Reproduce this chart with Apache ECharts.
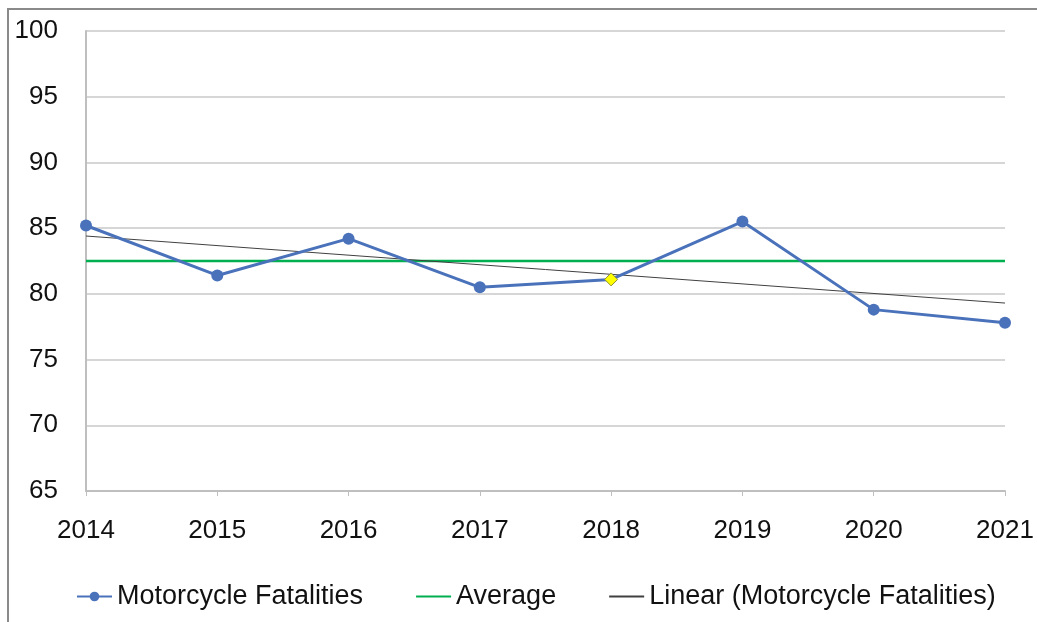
<!DOCTYPE html>
<html>
<head>
<meta charset="utf-8">
<script src="https://cdn.jsdelivr.net/npm/echarts@6/dist/echarts.min.js"></script>
<style>
    html, body { margin: 0; padding: 0; background: #fff; }
    #chart { width: 1037px; height: 622px; }
    #frame {
        position: absolute; left: 7px; top: 8px; right: 0; bottom: 0;
        border-left: 2px solid #8a8a8a; border-top: 2px solid #8a8a8a;
        pointer-events: none;
    }
</style>
</head>
<body>
<div id="chart"></div>
<div id="frame"></div>
<script>
// Dữ liệu
const years = ["2014", "2015", "2016", "2017", "2018", "2019", "2020", "2021"];
const fatalities = [85.2, 81.4, 84.2, 80.5, 81.1, 85.5, 78.8, 77.8];
const averageValues = [82.5, 82.5, 82.5, 82.5, 82.5, 82.5, 82.5, 82.5];
const trendValues = [84.4, null, null, null, null, null, null, 79.3];
const highlightIndex = 4; // 2018 - điểm màu vàng

const font = "'Liberation Sans', Arial, sans-serif";

const fatalityData = fatalities.map((v, i) => {
    if (i === highlightIndex) {
        return {
            value: v,
            symbol: 'diamond',
            symbolSize: 13,
            itemStyle: { color: '#ffff00', borderColor: '#8c8c3a', borderWidth: 1 }
        };
    }
    return v;
});

const chart = echarts.init(document.getElementById("chart"));
chart.setOption({
    animation: false,
    grid: { left: 86, right: 32, top: 31, bottom: 131 },
    legend: {
        left: 71,
        top: 578,
        itemWidth: 35,
        itemHeight: 12,
        itemGap: 52,
        textStyle: { fontFamily: font, fontSize: 27, color: '#111' },
        data: [
            { name: 'Motorcycle Fatalities' },
            { name: 'Average', itemStyle: { opacity: 0 } },
            { name: 'Linear (Motorcycle Fatalities)', itemStyle: { opacity: 0 } }
        ]
    },
    xAxis: {
        type: 'category',
        data: years,
        boundaryGap: false,
        axisLine: { lineStyle: { color: '#bfbfbf', width: 2 } },
        axisTick: { show: true, length: 5, lineStyle: { color: '#bfbfbf' } },
        axisLabel: { fontFamily: font, fontSize: 26, color: '#111', margin: 27 },
        splitLine: { show: false }
    },
    yAxis: {
        type: 'value',
        min: 65,
        max: 100,
        interval: 5,
        axisLine: { show: true, lineStyle: { color: '#bfbfbf', width: 2 } },
        axisTick: { show: false },
        axisLabel: { fontFamily: font, fontSize: 26, color: '#111', margin: 28 },
        splitLine: { lineStyle: { color: '#c8c8c8', width: 1.5 } }
    },
    series: [
        {
            name: 'Motorcycle Fatalities',
            type: 'line',
            data: fatalityData,
            symbol: 'circle',
            symbolSize: 12,
            lineStyle: { color: '#4a72bb', width: 3 },
            itemStyle: { color: '#4a72bb' },
            z: 5
        },
        {
            name: 'Average',
            type: 'line',
            data: averageValues,
            symbol: 'none',
            lineStyle: { color: '#00b050', width: 2.5 },
            itemStyle: { color: '#00b050' },
            z: 3
        },
        {
            name: 'Linear (Motorcycle Fatalities)',
            type: 'line',
            data: trendValues,
            connectNulls: true,
            symbol: 'none',
            lineStyle: { color: '#404040', width: 1 },
            itemStyle: { color: '#404040' },
            z: 4
        }
    ]
});
</script>
</body>
</html>
